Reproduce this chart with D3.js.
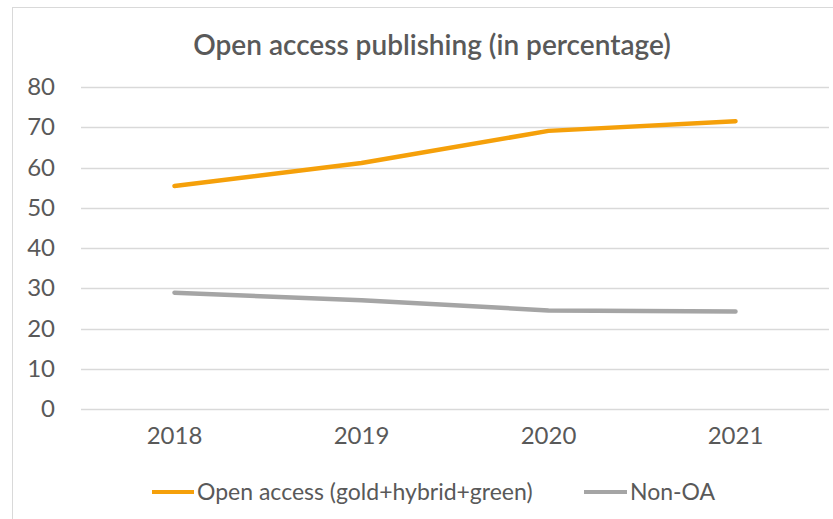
<!DOCTYPE html>
<html>
<head>
<meta charset="utf-8">
<script src="https://cdn.jsdelivr.net/npm/d3@7"></script>
<style>
  html, body { margin: 0; padding: 0; background: #fff; }
  svg { display: block; }
  text { font-family: Lato, "Open Sans", sans-serif; fill: #595959; }
</style>
</head>
<body>
<svg id="chart" width="833" height="519"></svg>
<script>
const title = "Open access publishing (in percentage)";
const years = ["2018", "2019", "2020", "2021"];
const openAccess = [55.4, 61.1, 69.1, 71.5];
const nonOA = [28.9, 27.0, 24.5, 24.2];
const seriesNames = ["Open access (gold+hybrid+green)", "Non-OA"];
const seriesColors = ["#F5A00A", "#A5A5A5"];
const yTicks = [0, 10, 20, 30, 40, 50, 60, 70, 80];

const svg = d3.select("#chart");
const W = 833, H = 519;
const m = { left: 81, right: 4, top: 87, bottom: 110 };

svg.append("rect")
  .attr("x", 12.5).attr("y", 7.5)
  .attr("width", 840).attr("height", 530)
  .attr("fill", "#fff").attr("stroke", "#D9D9D9").attr("stroke-width", 1);

const x = d3.scaleBand().domain(years).range([m.left, W - m.right]);
const y = d3.scaleLinear().domain([0, 80]).range([409, 87]);

// gridlines
svg.append("g")
  .selectAll("line").data(yTicks).join("line")
  .attr("x1", m.left).attr("x2", W - m.right)
  .attr("y1", d => Math.round(y(d)) + 0.5).attr("y2", d => Math.round(y(d)) + 0.5)
  .attr("stroke", "#D9D9D9").attr("stroke-width", 1.5);

// y axis labels
const yAxis = svg.append("g").attr("transform", `translate(${m.left - 26},0)`)
  .call(d3.axisLeft(y).tickValues(yTicks).tickSize(0).tickPadding(0));
yAxis.select(".domain").remove();
yAxis.selectAll("text")
  .attr("font-family", "Lato, sans-serif")
  .attr("font-size", 24).attr("fill", "#595959");

// x axis labels
const xAxis = svg.append("g").attr("transform", `translate(0,${y(0)})`)
  .call(d3.axisBottom(x).tickSize(0).tickPadding(18));
xAxis.select(".domain").remove();
xAxis.selectAll("text")
  .attr("font-family", "Lato, sans-serif")
  .attr("font-size", 24).attr("fill", "#595959");

// lines
const line = d3.line()
  .x((d, i) => x(years[i]) + x.bandwidth() / 2)
  .y(d => y(d));

[openAccess, nonOA].forEach((vals, k) => {
  svg.append("path")
    .datum(vals)
    .attr("d", line)
    .attr("fill", "none")
    .attr("stroke", seriesColors[k])
    .attr("stroke-width", 4.5)
    .attr("stroke-linecap", "round")
    .attr("stroke-linejoin", "round");
});

// title
svg.append("text")
  .attr("x", 432).attr("y", 55)
  .attr("text-anchor", "middle")
  .attr("font-size", 28).attr("font-weight", 600)
  .attr("fill", "#595959")
  .text(title);

// legend
const legendItems = [
  { name: seriesNames[0], color: seriesColors[0], x1: 152, x2: 194 },
  { name: seriesNames[1], color: seriesColors[1], x1: 584, x2: 627 }
];
const lg = svg.append("g");
legendItems.forEach(it => {
  lg.append("line")
    .attr("x1", it.x1).attr("x2", it.x2)
    .attr("y1", 492).attr("y2", 492)
    .attr("stroke", it.color).attr("stroke-width", 4);
  lg.append("text")
    .attr("x", it.x2 + 3).attr("y", 500)
    .attr("font-size", 23)
    .attr("fill", "#595959")
    .text(it.name);
});
</script>
</body>
</html>
